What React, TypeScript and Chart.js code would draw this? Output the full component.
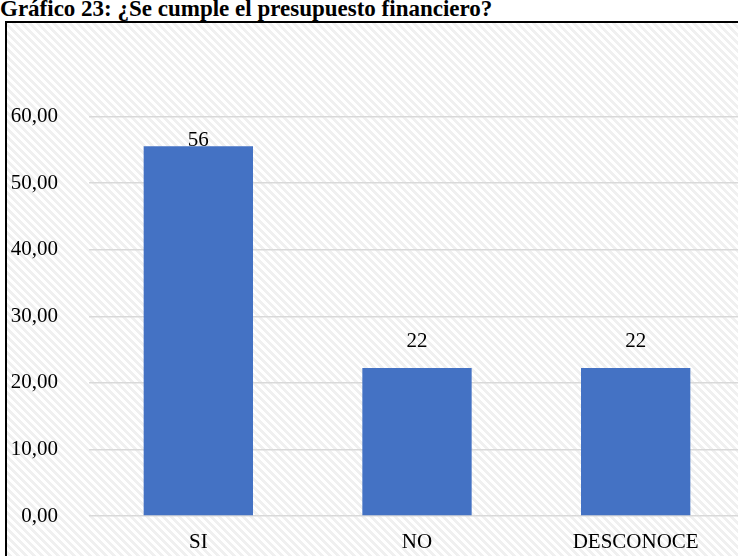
import React, { useEffect, useRef } from "react";
import { Chart, registerables } from "chart.js";

Chart.register(...registerables);

const categories = ["SI", "NO", "DESCONOCE"];
const values = [55.56, 22.22, 22.22];
const valueLabels = ["56", "22", "22"];
const yMin = 0;
const yMax = 70;
const yStep = 10;

const FONT = "'Liberation Serif', 'Times New Roman', serif";

const labelPlugin = {
  id: "barValueLabels",
  afterDatasetsDraw(chart: any, _args: any, opts: any) {
    const ctx = chart.ctx;
    const meta = chart.getDatasetMeta(0);
    ctx.save();
    ctx.font = `21px ${FONT}`;
    ctx.fillStyle = "#000000";
    ctx.textAlign = "center";
    ctx.textBaseline = "alphabetic";
    meta.data.forEach((bar: any, i: number) => {
      const off = (opts.offsets && opts.offsets[i]) || 0;
      ctx.fillText(valueLabels[i], bar.x, bar.y - off);
    });
    ctx.restore();
  },
};

export default function App() {
  const canvasRef = useRef<HTMLCanvasElement | null>(null);

  useEffect(() => {
    if (!canvasRef.current) return;
    const chart = new Chart(canvasRef.current, {
      type: "bar",
      data: {
        labels: categories,
        datasets: [
          {
            data: values,
            backgroundColor: "#4472c4",
            borderWidth: 0,
            barPercentage: 1,
            categoryPercentage: 0.5,
          },
        ],
      },
      options: {
        animation: false,
        responsive: false,
        maintainAspectRatio: false,
        layout: { padding: { top: 50, right: 15, left: 0, bottom: 0 } },
        plugins: {
          legend: { display: false },
          tooltip: { enabled: false },
          title: { display: false },
          barValueLabels: { offsets: [0, 21, 21] },
        } as any,
        scales: {
          x: {
            grid: { display: false, drawTicks: false },
            border: { display: false },
            ticks: {
              color: "#000000",
              font: { family: FONT, size: 21 },
              padding: 14,
            },
            afterFit(scale: any) {
              scale.height = 64;
            },
          },
          y: {
            min: yMin,
            max: yMax,
            border: { display: false },
            grid: {
              drawTicks: false,
              lineWidth: 1.5,
              color: (c: any) =>
                c.tick && c.tick.value === yMax ? "rgba(0,0,0,0)" : "#d9d9d9",
            },
            ticks: {
              stepSize: yStep,
              color: "#000000",
              font: { family: FONT, size: 21 },
              padding: 31,
              callback: (v: any) =>
                Number(v) === yMax ? "" : Number(v).toFixed(2).replace(".", ","),
            },
            afterFit(scale: any) {
              scale.width = 89;
            },
          },
        },
      },
      plugins: [labelPlugin],
    });
    return () => chart.destroy();
  }, []);

  return (
    <div
      style={{
        position: "fixed",
        left: 0,
        top: 0,
        width: 738,
        height: 556,
        overflow: "hidden",
        background: "#ffffff",
      }}
    >
      <div
        style={{
          position: "absolute",
          left: 0,
          top: 21,
          width: 800,
          height: 600,
          border: "2px solid #000",
          borderRight: "none",
          borderBottom: "none",
          marginLeft: 5,
          background:
            "repeating-linear-gradient(45deg, #ffffff 0px, #ffffff 3px, #f0f0f0 3px, #f0f0f0 5.66px)",
        }}
      />
      <div
        style={{
          position: "absolute",
          left: 0,
          top: -2,
          font: `bold 23px ${FONT}`,
          lineHeight: "22px",
          color: "#000",
          whiteSpace: "nowrap",
        }}
      >
        Gráfico 23: ¿Se cumple el presupuesto financiero?
      </div>
      <canvas
        ref={canvasRef}
        width={760}
        height={580}
        style={{ position: "absolute", left: 0, top: 0, width: 760, height: 580 }}
      />
    </div>
  );
}
